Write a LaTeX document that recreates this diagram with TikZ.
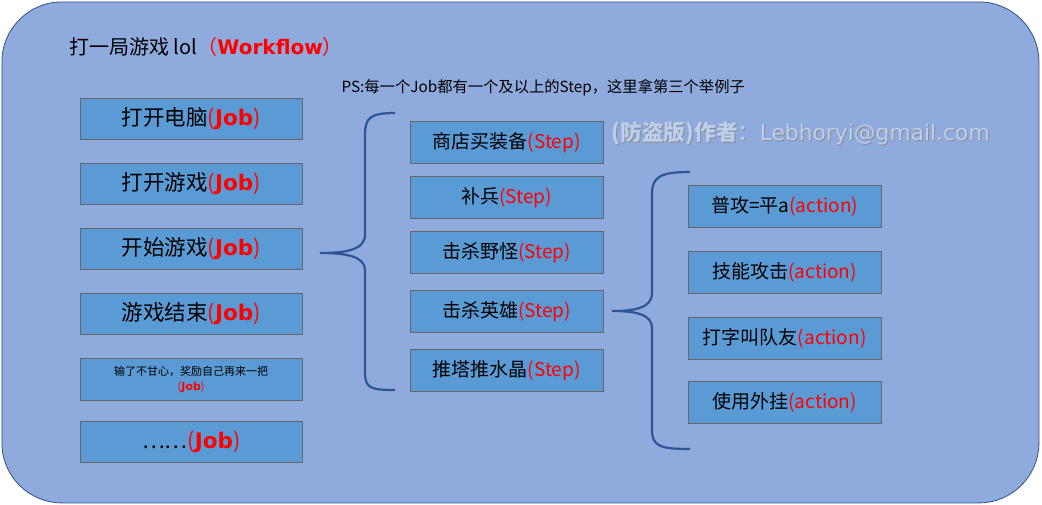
\documentclass[tikz,border=0pt]{standalone}
\usepackage{fontspec}
\setmainfont{Noto Sans CJK SC}
\newfontfamily\lat{DejaVu Sans}
\definecolor{bg}{RGB}{143,170,220}
\definecolor{bd}{RGB}{47,82,143}
\definecolor{bx}{RGB}{91,155,213}
\definecolor{br}{RGB}{47,85,151}
\definecolor{wm}{RGB}{190,207,236}
\begin{document}
\begin{tikzpicture}[x=1pt,y=-1pt,
  box/.style={draw=black!60,fill=bx,anchor=north west,inner sep=0pt}]
\useasboundingbox (0,0) rectangle (1042,504);
\node[draw=bd,fill=bg,rounded corners=60pt,minimum width=1037pt,minimum height=501pt,anchor=north west,line width=0.8pt] (bgr) at (1.5,1.5) {};
\node[anchor=west,font=\fontsize{20}{24}\selectfont] (title) at (66,47) {打一局游戏 lol\textcolor{red}{（\textbf{\lat Workflow}）}};
\node[anchor=west,font=\fontsize{15.3}{17}\selectfont] (ps) at (338,88) {PS:每一个Job都有一个及以上的Step，这里拿第三个举例子};
\foreach \n/\y/\t in {j1/98/打开电脑,j2/163/打开游戏,j3/228/开始游戏,j4/293/游戏结束,j6/421/……}{
  \node[box,minimum width=222pt,minimum height=41pt,font=\fontsize{21.5}{24}\selectfont] (\n) at (80,\y) {\t\textcolor{red}{(\textbf{\lat Job})}};
}
\node[box,minimum width=222pt,minimum height=42pt,font=\fontsize{11}{15}\selectfont,align=center] (j5) at (80,358) {输了不甘心，奖励自己再来一把\\\textcolor{red}{(\textbf{\lat Job})}};
\foreach \n/\y/\t in {s1/121/商店买装备,s2/176/补兵,s3/231/击杀野怪,s4/290/击杀英雄,s5/349/推塔推水晶}{
  \node[box,minimum width=193pt,minimum height=42pt,font=\fontsize{19}{22}\selectfont] (\n) at (410,\y) {\t\textcolor{red}{(Step)}};
}
\foreach \n/\y/\t in {a1/185/普攻=平a,a2/251/技能攻击,a3/317/打字叫队友,a4/381/使用外挂}{
  \node[box,minimum width=193pt,minimum height=42pt,font=\fontsize{19}{22}\selectfont] (\n) at (688,\y) {\t\textcolor{red}{(action)}};
}
\node[anchor=west,font=\fontsize{21.8}{26}\selectfont,text=black!45,xshift=1pt,yshift=-1pt] (wms) at (608,133) {\textbf{(防盗版)作者}：\lat Lebhoryi@gmail.com};
\node[anchor=west,font=\fontsize{21.8}{26}\selectfont,text=wm] (wm) at (608,133) {\textbf{(防盗版)作者}：\lat Lebhoryi@gmail.com};
\draw[br,line width=2.2pt] (395,113) .. controls (370,113) and (365,118) .. (365,135) -- (365,235) .. controls (365,250) and (345,253) .. (320,253)
  .. controls (345,253) and (365,256) .. (365,270) -- (365,372) .. controls (365,388) and (370,390) .. (395,390);
\draw[br,line width=2.2pt] (690,172) .. controls (660,172) and (652,177) .. (652,194) -- (652,293) .. controls (652,308) and (635,311) .. (612,311)
  .. controls (635,311) and (652,314) .. (652,328) -- (652,430) .. controls (652,446) and (660,449) .. (690,449);
\end{tikzpicture}
\end{document}
